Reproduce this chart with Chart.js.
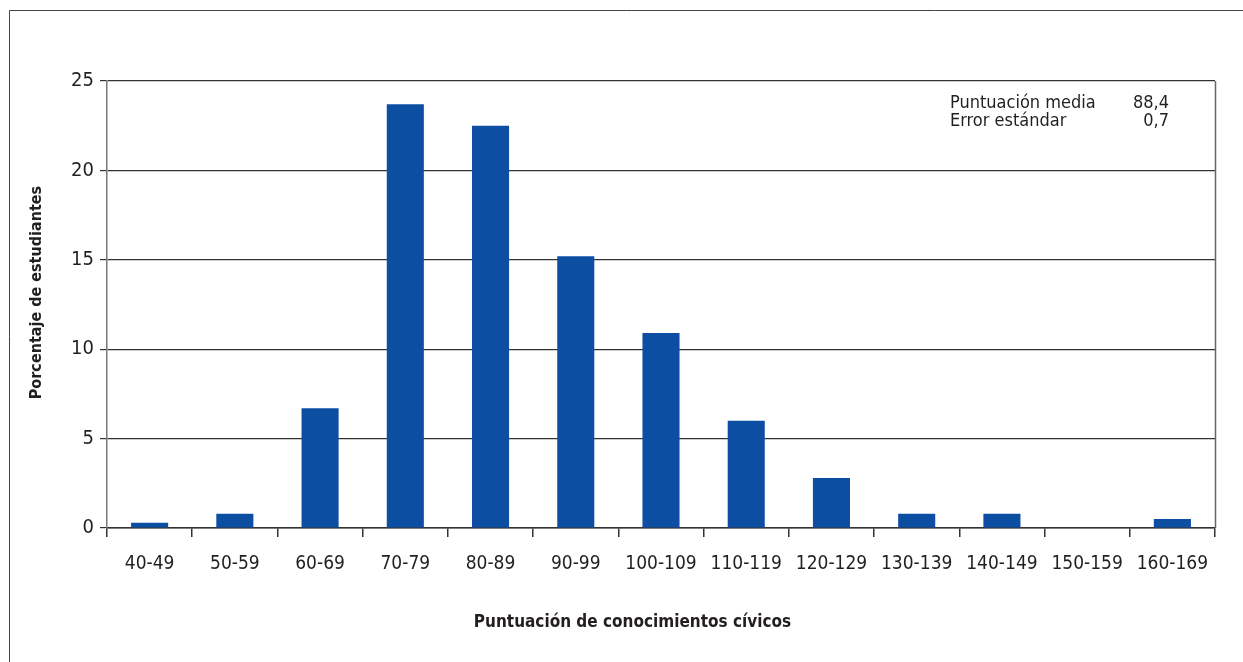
<!DOCTYPE html>
<html>
<head>
<meta charset="utf-8">
<script src="https://cdn.jsdelivr.net/npm/chart.js@4/dist/chart.umd.min.js"></script>
<style>
  html, body { margin: 0; padding: 0; background: #fff; }
  #wrap { width: 1243px; height: 662px; position: relative; }
</style>
</head>
<body>
<div id="wrap"><canvas id="myChart"></canvas></div>
<script>
// Data
const categories = ['40-49', '50-59', '60-69', '70-79', '80-89', '90-99', '100-109',
  '110-119', '120-129', '130-139', '140-149', '150-159', '160-169'];
const percentages = [0.3, 0.8, 6.7, 23.7, 22.5, 15.2, 10.9, 6.0, 2.8, 0.8, 0.8, 0, 0.5];
const yTicks = [0, 5, 10, 15, 20, 25];
const statLabels = ['Puntuación media', 'Error estándar'];
const statValues = ['88,4', '0,7'];
const xTitle = 'Puntuación de conocimientos cívicos';
const yTitle = 'Porcentaje de estudiantes';

const FONT = "'Liberation Sans Narrow', 'DejaVu Sans Condensed', Arial, sans-serif";
const TEXT = '#231f20';

// outer frame, plot box right edge, axis titles and the stats box
const decor = {
  id: 'decor',
  beforeDraw(chart) {
    const c = chart.ctx;
    c.save();
    c.fillStyle = '#fff';
    c.fillRect(0, 0, chart.width, chart.height);
    c.strokeStyle = '#444';
    c.lineWidth = 1;
    c.beginPath();
    c.moveTo(9.5, chart.height);
    c.lineTo(9.5, 10.5);
    c.lineTo(chart.width, 10.5);
    c.stroke();
    c.restore();
  },
  afterDraw(chart) {
    const c = chart.ctx;
    const a = chart.chartArea;
    c.save();
    c.strokeStyle = '#666';
    c.lineWidth = 1.5;
    c.beginPath();
    c.moveTo(Math.round(a.right) + 0.5, a.top);
    c.lineTo(Math.round(a.right) + 0.5, a.bottom);
    c.stroke();

    // stats box
    c.font = '18px ' + FONT;
    c.fillStyle = TEXT;
    c.textBaseline = 'middle';
    statLabels.forEach((t, i) => {
      const y = a.top + 22 + i * 18;
      c.textAlign = 'left';
      c.fillText(t, a.right - 265, y);
      c.textAlign = 'right';
      c.fillText(statValues[i], a.right - 46, y);
    });

    // axis titles
    c.textAlign = 'center';
    c.font = 'bold 17px ' + FONT;
    c.fillText(xTitle, chart.width / 2 + 11, 623);
    c.translate(37, (a.top + a.bottom) / 2 - 12);
    c.rotate(-Math.PI / 2);
    c.font = 'bold 16px ' + FONT;
    c.fillText(yTitle, 0, 0);
    c.restore();
  }
};

const ctx = document.getElementById('myChart').getContext('2d');

new Chart(ctx, {
  type: 'bar',
  data: {
    labels: categories,
    datasets: [{
      label: 'Porcentaje',
      data: percentages,
      backgroundColor: '#0c4ea2',
      borderWidth: 0,
      barPercentage: 0.435,
      categoryPercentage: 1
    }]
  },
  options: {
    responsive: true,
    maintainAspectRatio: false,
    animation: false,
    layout: { padding: { left: 0, top: 81, right: 28, bottom: 0 } },
    plugins: {
      legend: { display: false },
      tooltip: { enabled: false }
    },
    scales: {
      x: {
        grid: {
          offset: true,
          drawOnChartArea: false,
          drawTicks: true,
          tickLength: 9,
          color: '#333',
          lineWidth: 1.5
        },
        border: { color: '#333', width: 1.5 },
        ticks: {
          color: TEXT,
          font: { family: FONT, size: 19 },
          padding: 16,
          maxRotation: 0,
          autoSkip: false
        },
        afterFit(scale) { scale.height = 134; }
      },
      y: {
        min: 0,
        max: 25,
        afterBuildTicks(scale) { scale.ticks = yTicks.map(v => ({ value: v })); },
        grid: {
          color: '#333',
          lineWidth: 1.2,
          tickLength: 7,
          drawTicks: true
        },
        border: { color: '#777', width: 1.5 },
        ticks: {
          color: TEXT,
          font: { family: FONT, size: 20 },
          padding: 6
        },
        afterFit(scale) { scale.width = 107; }
      }
    }
  },
  plugins: [decor]
});
</script>
</body>
</html>
